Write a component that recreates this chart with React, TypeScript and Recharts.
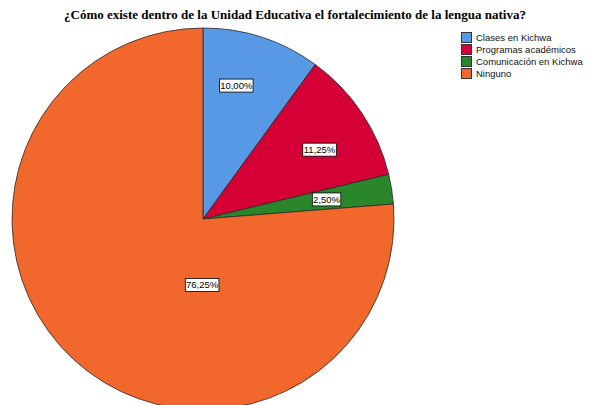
import React from 'react';
import { PieChart, Pie, Cell, Legend } from 'recharts';

const categories = ['Clases en Kichwa', 'Programas académicos', 'Comunicación en Kichwa', 'Ninguno'];
const values = [10.0, 11.25, 2.5, 76.25];
const valueLabels = ['10,00%', '11,25%', '2,50%', '76,25%'];
const colors = ['#5799E4', '#D40036', '#2A862A', '#F2672B'];
const title = '¿Cómo existe dentro de la Unidad Educativa el fortalecimiento de la lengua nativa?';

const data = categories.map((name, i) => ({ name, value: values[i] }));

const RAD = Math.PI / 180;
// label placement tweaks (radius fraction, angle offset in degrees) mimicking SPSS
const labelRadius = [0.72, 0.71, 0.655, 0.345];
const labelAngleOffset = [4, -3, 0, 42];

const renderLabel = (props: any) => {
  const { cx, cy, midAngle, outerRadius, index } = props;
  const r = outerRadius * labelRadius[index];
  const a = (midAngle + labelAngleOffset[index]) * RAD;
  const x = cx + r * Math.cos(a);
  const y = cy - r * Math.sin(a);
  const text = valueLabels[index];
  const w = text.length * 5.1 + 3;
  const h = 13;
  return (
    <g>
      <rect x={x - w / 2} y={y - h / 2} width={w} height={h} fill="#ffffff" stroke="#000000" strokeWidth={0.8} />
      <text x={x} y={y + 3.4} textAnchor="middle" fontFamily="'Liberation Sans', Arial, sans-serif" fontSize={9.5} fill="#000">
        {text}
      </text>
    </g>
  );
};

const renderLegend = () => (
  <div style={{ fontFamily: "'Liberation Sans', Arial, sans-serif", fontSize: 9.5, color: '#111' }}>
    {categories.map((c, i) => (
      <div key={c} style={{ display: 'flex', alignItems: 'center', height: 12 }}>
        <span style={{ display: 'inline-block', width: 9, height: 9, background: colors[i], border: '1px solid #333', marginRight: 4 }} />
        <span>{c}</span>
      </div>
    ))}
  </div>
);

export default function App() {
  return (
    <div style={{ position: 'absolute', left: 0, top: 0, width: 598, height: 405, overflow: 'hidden', background: '#fff' }}>
      <div style={{ position: 'absolute', left: 317, top: -27, fontFamily: "'Liberation Serif', 'Times New Roman', serif", fontSize: 26, lineHeight: '26px', color: '#000' }}>g</div>
      <div style={{ position: 'absolute', left: 0, width: 590, top: 7, textAlign: 'center', fontFamily: "'Liberation Serif', 'Times New Roman', serif", fontWeight: 'bold', fontSize: 13, lineHeight: '15px', color: '#000' }}>
        {title}
      </div>
      <PieChart width={598} height={405} margin={{ top: 0, right: 0, bottom: 0, left: 0 }} style={{ position: 'absolute', left: 0, top: 0 }}>
        <Pie
          data={data}
          dataKey="value"
          nameKey="name"
          cx={203}
          cy={219}
          outerRadius={191}
          startAngle={90}
          endAngle={-270}
          stroke="#2a2a2a"
          strokeWidth={0.8}
          label={renderLabel}
          labelLine={false}
          isAnimationActive={false}
        >
          {data.map((d, i) => (
            <Cell key={d.name} fill={colors[i]} />
          ))}
        </Pie>
        <Legend content={renderLegend} wrapperStyle={{ position: 'absolute', left: 461, top: 31, width: 137 }} />
      </PieChart>
    </div>
  );
}
